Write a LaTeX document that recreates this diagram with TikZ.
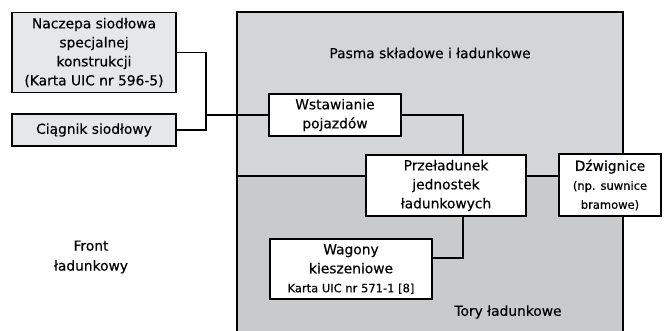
\documentclass[tikz,border=0pt]{standalone}
\usepackage{fontspec}
\setmainfont[FakeBold=0.35]{DejaVu Sans}
\usepackage{tikz}
\usetikzlibrary{arrows,shapes}
\definecolor{upperzone}{HTML}{D4D5D6}
\definecolor{lowerzone}{HTML}{C8CACC}
\definecolor{boxgray}{HTML}{E6E7E8}
\tikzstyle{block}=[draw,line width=1.6pt,fill=white,align=center,inner sep=0pt,font=\fontsize{13.8}{19}\selectfont]
\tikzstyle{grey block} = [block, fill=boxgray]
\tikzstyle{link} = [draw,line width=1.6pt]
\tikzstyle{zone} = [align=center,font=\fontsize{13.8}{20}\selectfont]
\newcommand{\notesize}{\fontsize{11.5}{19}\selectfont}

\begin{document}
\begin{tikzpicture}[x=1pt,y=-1pt]
    \useasboundingbox (0,0) rectangle (664,331);
    % strefy terminalu
    \fill[upperzone] (237,12) rectangle (623,176);
    \fill[lowerzone] (237,176) rectangle (623,331);
    \draw[line width=1.6pt] (237,331) -- (237,12) -- (623,12) -- (623,331);
    \draw[line width=1.6pt] (237,176) -- (623,176);
    \node[zone] (pasma) at (430,53) {Pasma składowe i ładunkowe};
    \node[zone] (tory) at (508,312) {Tory ładunkowe};
    \node[zone] (front) at (91,257) {Front\\ładunkowy};
    % bloki
    \foreach \pos/\name/\w/\h/\txt in {
        {(94,52.5)/naczepa/164/80/Naczepa siodłowa\\specjalnej\\konstrukcji\\(Karta UIC nr 596-5)},
        {(94,130)/ciagnik/164/32/Ciągnik siodłowy}}
        \node[grey block,minimum width=\w pt,minimum height=\h pt] (\name) at \pos {\txt};
    \foreach \pos/\name/\w/\h/\txt in {
        {(335,115)/wstaw/132/42/Wstawianie\\pojazdów},
        {(446,185.5)/przel/160/61/Przeładunek\\jednostek\\ładunkowych},
        {(610,185)/dzwig/102/62/Dźwignice\\{\notesize(np. suwnice}\\{\notesize bramowe)}},
        {(351,269)/wagony/162/60/Wagony\\kieszeniowe\\{\notesize Karta UIC nr 571-1 [8]}}}
        \node[block,minimum width=\w pt,minimum height=\h pt] (\name) at \pos {\txt};
    % połączenia
    \coordinate (joint) at (206,115);
    \path[link] (naczepa.east) -| (joint) |- (ciagnik.east);
    \path[link] (joint) -- (wstaw.west);
    \path[link] (wstaw.east) -| ([xshift=17pt]przel.north);
    \path[link] ([xshift=17pt]przel.south) |- ([yshift=11pt]wagony.east);
\end{tikzpicture}
\end{document}
